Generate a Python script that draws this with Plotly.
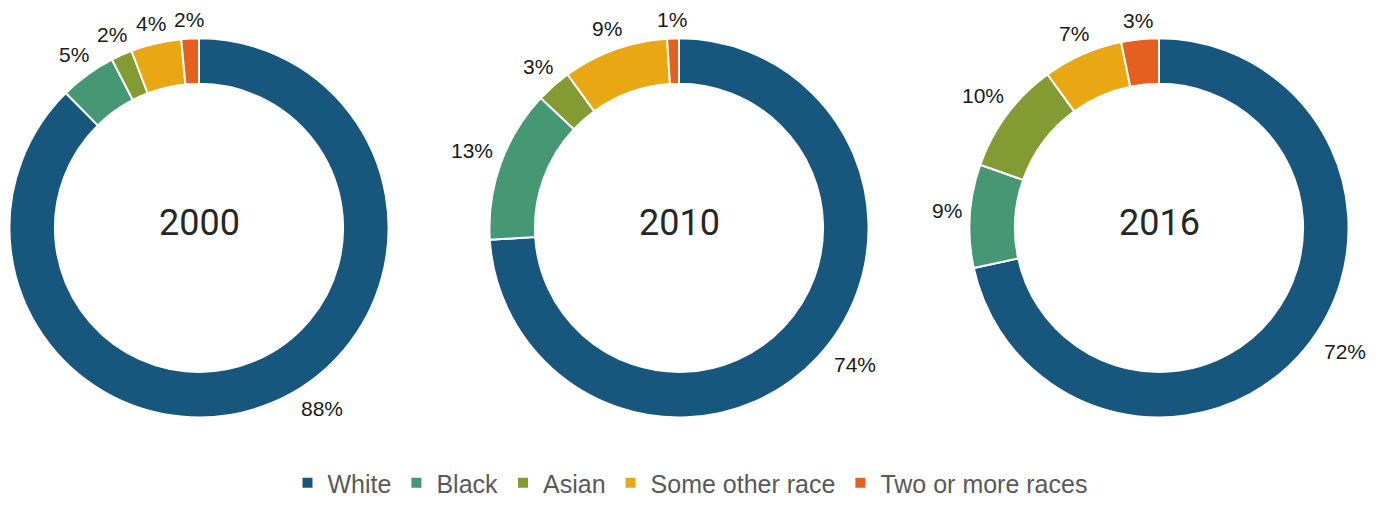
import math
import plotly.graph_objects as go

categories = ["White", "Black", "Asian", "Some other race", "Two or more races"]
years = ["2000", "2010", "2016"]
shares_2000 = [87.6, 4.8, 1.8, 4.3, 1.5]
shares_2010 = [74.0, 13.0, 3.0, 9.0, 1.0]
shares_2016 = [71.6, 8.8, 9.6, 6.8, 3.2]
colors = ["#17577e", "#459873", "#849a32", "#e8a713", "#e56020"]

W, H = 1380, 506
centers_x = [199, 679, 1159]
center_y = 232
radius = 193
label_font = 21
# the largest slice's label sits a little counter-clockwise of its mid-angle (degrees), and further out
first_label_shift = [-11, -4, -4]
first_label_extra = 8

fig = go.Figure()
for i, (yr, vals) in enumerate(zip(years, [shares_2000, shares_2010, shares_2016])):
    cx = centers_x[i] / W
    cy = 1 - center_y / H
    hx = radius / W
    hy = radius / H
    fig.add_trace(go.Pie(
        labels=categories, values=vals, sort=False, direction="clockwise", rotation=0,
        hole=0.76,
        marker=dict(colors=colors, line=dict(color="white", width=2)),
        textinfo="none",
        domain=dict(x=[cx - hx, cx + hx], y=[cy - hy, cy + hy]),
        showlegend=(i == 0), hoverinfo="label+percent",
    ))
    fig.add_annotation(x=cx, y=1 - 227 / H, xref="paper", yref="paper", text=yr, showarrow=False,
                       xanchor="center", yanchor="middle",
                       font=dict(family="Roboto", size=36, color="#262626"))
    total = sum(vals)
    cum = 0.0
    for k, v in enumerate(vals):
        theta = 2 * math.pi * (cum + v / 2) / total
        extra = 0
        if k == 0:
            theta += math.radians(first_label_shift[i])
            extra = first_label_extra
        cum += v
        txt = f"{round(100 * v / total)}%"
        tw = 0.6 * label_font * len(txt)
        th = 0.8 * label_font
        r = 199 + extra + 0.5 * (tw * abs(math.sin(theta)) + th * abs(math.cos(theta)))
        px = centers_x[i] + r * math.sin(theta)
        py = 228 - r * math.cos(theta)
        fig.add_annotation(x=px / W, y=1 - py / H, xref="paper", yref="paper", text=txt,
                           showarrow=False, xanchor="center", yanchor="middle",
                           font=dict(family="Liberation Sans, Arial", size=label_font, color="#1a1a1a"))

fig.update_layout(
    width=W, height=H, margin=dict(l=0, r=0, t=0, b=0),
    paper_bgcolor="white", plot_bgcolor="white",
    legend=dict(orientation="h", x=0.5, xanchor="center", y=1 - 492 / H, yanchor="middle",
                font=dict(family="Liberation Sans, Arial", size=25, color="#595959"),
                itemwidth=30, traceorder="normal"),
)
fig.write_html("out.html", config={"displayModeBar": False},
               post_script="document.body.style.margin='0';")
